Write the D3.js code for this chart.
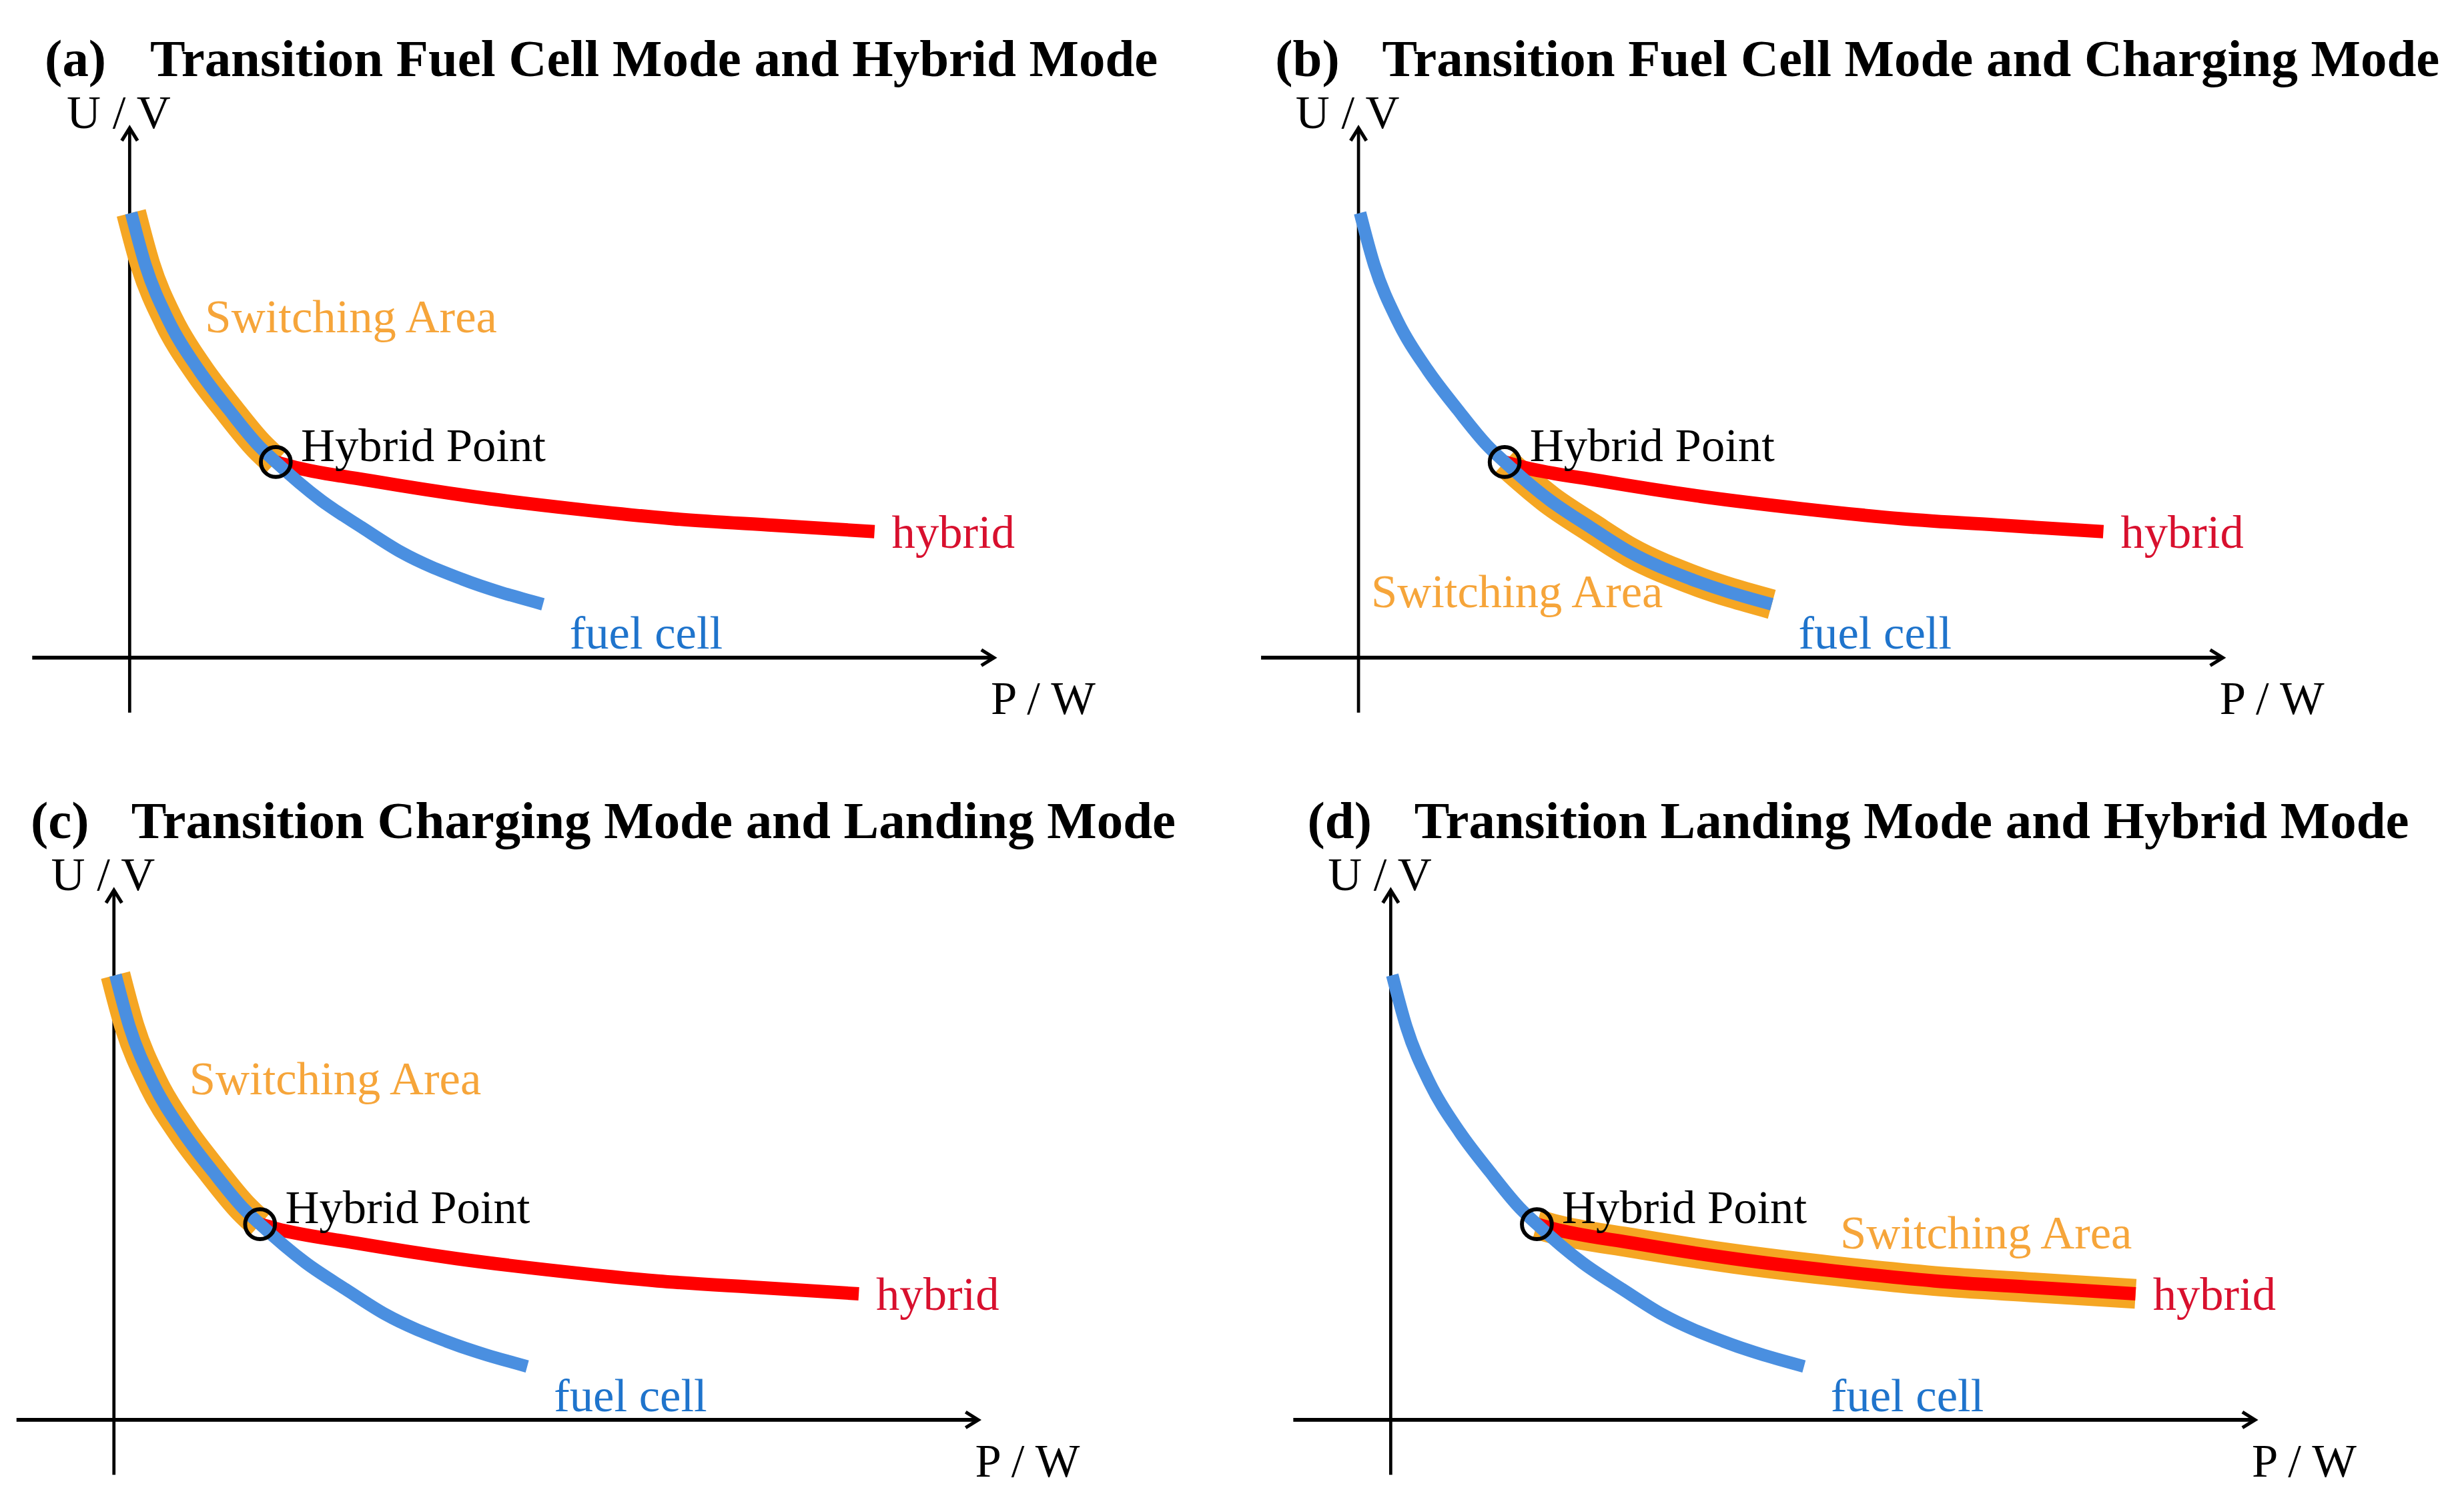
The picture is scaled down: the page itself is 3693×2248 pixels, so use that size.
<!DOCTYPE html>
<meta charset="utf-8">

<style type="text/css">
    body {
        margin: 0;
        background: #fff;
    }
    svg {
        display: block;
    }
    text {
        font-family: "Liberation Serif", "Times New Roman", serif;
        font-size: 30px;
    }
    .title {
        font-weight: bold;
        font-size: 33.5px;
    }
    .axis-line {
        stroke: #000;
        stroke-width: 2;
        fill: none;
    }
</style>

<body></body>

<script src="https://d3js.org/d3.v7.min.js"></script>

<script>

// curves, same shape in all four panels
// P and U in arbitrary units (no ticks on the original)
var fuelCellP = [1, 10, 25, 44, 63, 82, 93, 122, 147.6, 173, 211.5, 263];
var fuelCellU = [283, 250, 214, 183, 158, 135, 124.5, 100, 83, 67, 50, 34];

var hybridP = [93, 103, 154, 218, 282, 346, 410, 474];
var hybridU = [124.5, 121.7, 112.5, 102.6, 94.8, 88.4, 84.2, 80.2];

var hybridPoint = {P: 93, U: 124.5};

var panelLetters = ["(a)", "(b)", "(c)", "(d)"];
var panelTitles = [
    "Transition Fuel Cell Mode and Hybrid Mode",
    "Transition Fuel Cell Mode and Charging Mode",
    "Transition Charging Mode and Landing Mode",
    "Transition Landing Mode and Hybrid Mode"
];
// which part gets the orange band
var switchingCurve = ["fuelcell-upper", "fuelcell-lower", "fuelcell-upper", "hybrid"];

var curveLabels = {hybrid: "hybrid", fuel: "fuel cell", point: "Hybrid Point", area: "Switching Area"};
var axisLabels = {x: "P / W", y: "U / V"};

var fuelCell = fuelCellP.map(function(p, i) { return {P: p, U: fuelCellU[i]}; });
var hybrid = hybridP.map(function(p, i) { return {P: p, U: hybridU[i]}; });

// layout in a 1568 x 954.5 box, scaled up to the window
var W = 1568, H = 954.5;
var svg = d3.select("body").append("svg")
    .attr("width", 3693)
    .attr("height", 2248)
    .attr("viewBox", "0 0 " + W + " " + H)
    .attr("preserveAspectRatio", "none");

var panels = [
    {ox: 82.5, oy: 418.5, letterX: -54, titleX: 13, areaAt: [48, 207]},
    {ox: 864.5, oy: 418.5, letterX: -53, titleX: 15, areaAt: [8, 32]},
    {ox: 72.5, oy: 903.5, letterX: -53, titleX: 11, areaAt: [48, 207]},
    {ox: 885, oy: 903.5, letterX: -53, titleX: 15, areaAt: [286, 109]}
];

var blue = "#4a8fe0", orange = "#f5a623", red = "#ff0000";

panels.forEach(function(pn, k) {

    var x = d3.scaleLinear().domain([0, 500]).range([pn.ox, pn.ox + 500]);
    var y = d3.scaleLinear().domain([0, 300]).range([pn.oy, pn.oy - 300]);

    var line = d3.line()
        .x(function(d) { return x(d.P); })
        .y(function(d) { return y(d.U); })
        .curve(d3.curveMonotoneX);

    var g = svg.append("g");

    // axes with open arrow heads
    var xEnd = x(550), yEnd = y(337);
    g.append("line").attr("class", "axis-line")
        .attr("x1", x(-62)).attr("x2", xEnd - 1)
        .attr("y1", y(0)).attr("y2", y(0))
        .style("stroke-width", 2.4);
    g.append("path").attr("class", "axis-line")
        .attr("d", "M" + (xEnd - 8) + "," + (y(0) - 5) + "L" + xEnd + "," + y(0) + "L" + (xEnd - 8) + "," + (y(0) + 5))
        .style("stroke-width", 2.2);
    g.append("line").attr("class", "axis-line")
        .attr("x1", x(0)).attr("x2", x(0))
        .attr("y1", y(-35)).attr("y2", yEnd + 1);
    g.append("path").attr("class", "axis-line")
        .attr("d", "M" + (x(0) - 5) + "," + (yEnd + 8) + "L" + x(0) + "," + yEnd + "L" + (x(0) + 5) + "," + (yEnd + 8))
        .style("stroke-width", 2.2);

    // orange switching band
    var band;
    if (switchingCurve[k] == "fuelcell-upper") {
        band = fuelCell.filter(function(d) { return d.P <= hybridPoint.P; });
    } else if (switchingCurve[k] == "fuelcell-lower") {
        band = fuelCell.filter(function(d) { return d.P >= hybridPoint.P; });
    } else {
        band = hybrid;
    }
    g.append("path")
        .attr("d", line(band))
        .attr("fill", "none")
        .attr("stroke", orange)
        .attr("stroke-width", 19);

    g.append("path")
        .attr("d", line(hybrid))
        .attr("fill", "none")
        .attr("stroke", red)
        .attr("stroke-width", 8.5);

    g.append("path")
        .attr("d", line(fuelCell))
        .attr("fill", "none")
        .attr("stroke", blue)
        .attr("stroke-width", 8);

    g.append("circle")
        .attr("cx", x(hybridPoint.P))
        .attr("cy", y(hybridPoint.U))
        .attr("r", 9.5)
        .attr("fill", "none")
        .attr("stroke", "#000")
        .attr("stroke-width", 2.5);

    // texts
    g.append("text").attr("class", "title")
        .attr("x", x(pn.letterX)).attr("y", y(370))
        .text(panelLetters[k]);
    g.append("text").attr("class", "title")
        .attr("x", x(pn.titleX)).attr("y", y(370))
        .text(panelTitles[k]);

    g.append("text").attr("x", x(-40)).attr("y", y(337)).text(axisLabels.y);
    g.append("text").attr("x", x(548)).attr("y", y(-36)).text(axisLabels.x);

    g.append("text").attr("x", x(109)).attr("y", y(125)).attr("fill", "#000").text(curveLabels.point);
    g.append("text").attr("x", x(485)).attr("y", y(70)).attr("fill", "#d8102e").text(curveLabels.hybrid);
    g.append("text").attr("x", x(280)).attr("y", y(5.6)).attr("fill", "#1f74cc").text(curveLabels.fuel);
    g.append("text").attr("x", x(pn.areaAt[0])).attr("y", y(pn.areaAt[1])).attr("fill", "#f6a53a").text(curveLabels.area);
});

</script>
